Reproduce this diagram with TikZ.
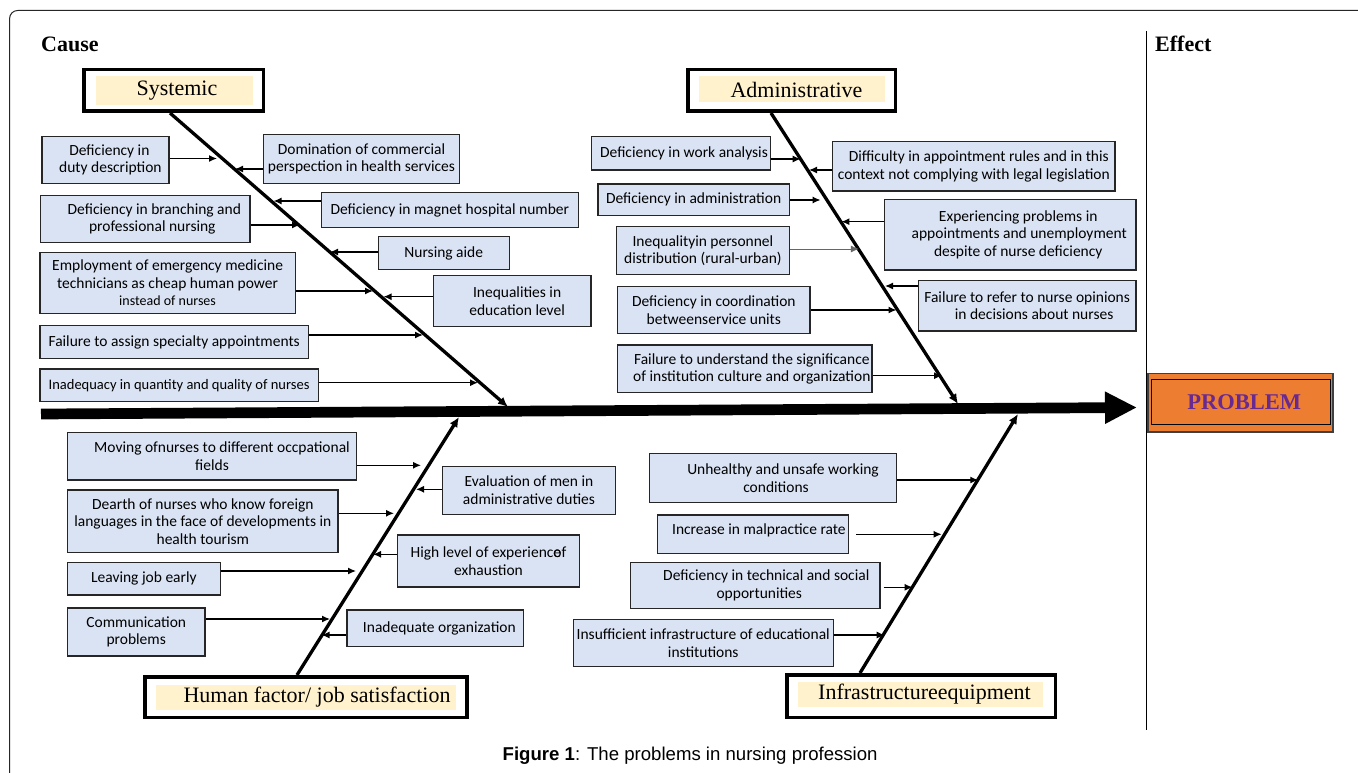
\documentclass[tikz,border=0pt]{standalone}
\usepackage{fontspec}
\setmainfont{Liberation Serif}
\newfontfamily\boxfont{Carlito}
\newfontfamily\capfont{Liberation Sans}
\usetikzlibrary{arrows.meta}
\definecolor{boxblue}{RGB}{218,227,243}
\definecolor{beige}{RGB}{255,242,204}
\definecolor{probor}{RGB}{237,125,49}
\definecolor{probpurple}{RGB}{104,42,145}
\newcommand\fishbox[7][]{\node[cbox, #1, minimum width={#5-#3-1.3}, minimum height={#6-#4-1.3}] (#2) at ({(#3+#5)/2},{(#4+#6)/2}) {#7};}
\begin{document}
\begin{tikzpicture}[x=1pt,y=-1pt,
  cbox/.style={draw=black!85, line width=1.3pt, fill=boxblue, inner sep=0pt, align=center,
    font=\boxfont\fontsize{15.5}{17.5}\selectfont},
  catb/.style={draw=black, line width=3.5pt, inner sep=0pt},
  catin/.style={fill=beige, inner sep=0pt, font=\fontsize{22}{24}\selectfont},
  sarrow/.style={line width=1.3pt, -{Latex[length=8pt,width=7pt]}},
  bone/.style={line width=3.3pt, -{Latex[length=10pt,width=9pt]}},
  heading/.style={anchor=west, inner sep=0pt, font=\bfseries\fontsize{22}{24}\selectfont}]
\useasboundingbox (0,0) rectangle (1358,773);
\fill[white] (0,0) rectangle (1358,773);
% frame
\draw[black!85, line width=1pt, rounded corners=8pt] (9.6,780) -- (9.6,10.5) -- (1365,10.5);
\draw[black, line width=1pt] (1146,31) -- (1146,730);
\node[heading] (cause) at (41,44) {Cause};
\node[heading] (effect) at (1155,44) {Effect};

% category boxes
\node[catb, minimum width=179.5, minimum height=41.5] (sys) at (173.5,90.5) {};
\node[catin, minimum width=157, minimum height=29] (sysl) at (174.5,90.5) {\hspace*{5pt}Systemic};
\node[catb, minimum width=207.5, minimum height=41.5] (adm) at (791.5,90.5) {};
\node[catin, minimum width=186, minimum height=26] (adml) at (792,89.5) {\hspace*{9pt}Administrative};
\node[catb, minimum width=322, minimum height=40.5] (hum) at (306.2,697) {};
\node[catin, minimum width=300, minimum height=25] (huml) at (306,697.5) {\hspace*{22pt}Human factor/ job satisfaction};
\node[catb, minimum width=268.5, minimum height=42.5] (inf) at (921,696) {};
\node[catin, minimum width=245, minimum height=25] (infl) at (920.5,694.5) {\hspace*{8pt}Infrastructureequipment};

% problem
\node[draw=black!75, line width=1.5pt, fill=probor, minimum width=185.2, minimum height=58.5, inner sep=0pt] (prob) at (1240.6,402.7) {};
\node[draw=black, line width=0.9pt, minimum width=179, minimum height=45.5, inner sep=0pt,
  text=probpurple, font=\bfseries\fontsize{22.5}{24}\selectfont] (probin) at (1240.8,402) {\hspace*{7pt}PROBLEM};

% spine
\coordinate (spS) at (41,414);
\coordinate (spE) at (1137,407.5);
\draw[line width=10.7pt, -{Triangle[length=32pt,width=30pt]}] (spS) -- (spE);

% bones
\coordinate (sysE) at (508,407);
\coordinate (admE) at (958,404);
\coordinate (humE) at (459,417);
\coordinate (infE) at (1018,414);
\draw[bone] ([xshift=-3.5pt]sys.south) -- (sysE);
\draw[bone] ([xshift=-20.5pt]adm.south) -- (admE);
\draw[bone] ([xshift=-9.2pt]hum.north) -- (humE);
\draw[bone] ([xshift=-61pt]inf.north) -- (infE);

% systemic causes
\fishbox{s1}{41.3}{135.7}{169.5}{184.3}{\hspace*{8pt}Deficiency in\\\hspace*{10pt}duty description}
\fishbox{s2}{263}{134}{460}{184}{Domination of commercial\\perspection in health services}
\fishbox{s3}{320.7}{192}{579}{228}{Deficiency in magnet hospital number}
\fishbox{s4}{40}{194.7}{250.7}{243}{\hspace*{18pt}Deficiency in branching and\\\hspace*{14pt}professional nursing}
\fishbox{s5}{377.7}{236}{509.8}{270}{Nursing aide}
\fishbox{s6}{39.4}{252}{295.8}{314}{Employment of emergency medicine\\technicians as cheap human power\\{\fontsize{14}{17}\selectfont instead of nurses}}
\fishbox{s7}{432.5}{274.7}{591.7}{327.3}{\hspace*{10pt}Inequalities in\\\hspace*{10pt}education level}
\fishbox{s8}{39.4}{325}{309}{359}{Failure to assign specialty appointments}
\fishbox[font=\boxfont\fontsize{14.5}{17}\selectfont]{s9}{39.4}{368.3}{318.8}{402.3}{Inadequacy in quantity and quality of nurses}
\coordinate (ts1) at (217,158.5);
\coordinate (ts2) at (235,169);
\coordinate (ts3) at (273.6,201);
\coordinate (ts4) at (300,225);
\coordinate (ts5) at (330,252);
\coordinate (ts6) at (373,291);
\coordinate (ts7) at (383.5,296.7);
\coordinate (ts8) at (423,335);
\coordinate (ts9) at (478,382.7);
\draw[sarrow] (s1.east |- ts1) -- (ts1);
\draw[sarrow] (s2.west |- ts2) -- (ts2);
\draw[sarrow] (s3.west |- ts3) -- (ts3);
\draw[sarrow] (s4.east |- ts4) -- (ts4);
\draw[sarrow] (s5.west |- ts5) -- (ts5);
\draw[sarrow] (s6.east |- ts6) -- (ts6);
\draw[sarrow] (s7.west |- ts7) -- (ts7);
\draw[sarrow] (s8.east |- ts8) -- (ts8);
\draw[sarrow] (s9.east |- ts9) -- (ts9);

% administrative causes
\fishbox{a1}{591}{136}{771}{170.7}{\hspace*{6pt}Deficiency in work analysis}
\fishbox{a2}{832}{141}{1115.7}{191.7}{\hspace*{10pt}Difficulty in appointment rules and in this\\context not complying with legal legislation}
\fishbox{a3}{597.4}{183.3}{789.8}{216}{Deficiency in administration}
\fishbox{a4}{884}{198.7}{1136.5}{270.7}{\hspace*{16pt}Experiencing problems in\\\hspace*{18pt}appointments and unemployment\\\hspace*{16pt}despite of nurse deficiency}
\fishbox{a5}{616}{226}{789.8}{275}{Inequalityin personnel\\distribution (rural-urban)}
\fishbox{a6}{917.8}{280}{1136.5}{331.7}{Failure to refer to nurse opinions\\\hspace*{14pt}in decisions about nurses}
\fishbox{a7}{617}{285.7}{810.7}{334.3}{Deficiency in coordination\\betweenservice units}
\fishbox{a8}{617}{344.3}{872.7}{393.3}{\hspace*{14pt}Failure to understand the significance\\\hspace*{14pt}of institution culture and organization}
\coordinate (ta1) at (800.7,159);
\coordinate (ta2) at (809,170);
\coordinate (ta3) at (820.6,200);
\coordinate (ta4) at (841.4,221.7);
\coordinate (ta5) at (858.8,249);
\coordinate (ta6) at (885,286);
\coordinate (ta7) at (896.5,310);
\coordinate (ta8) at (942,375.7);
\draw[sarrow] (a1.east |- ta1) -- (ta1);
\draw[sarrow] (a2.west |- ta2) -- (ta2);
\draw[sarrow] (a3.east |- ta3) -- (ta3);
\draw[sarrow] (a4.west |- ta4) -- (ta4);
\draw[sarrow, line width=0.8pt, draw=black!60] (a5.east |- ta5) -- (ta5);
\draw[sarrow] (a6.west |- ta6) -- (ta6);
\draw[sarrow] (a7.east |- ta7) -- (ta7);
\draw[sarrow] (a8.east |- ta8) -- (ta8);

% human factor causes
\fishbox{h1}{67}{432}{357}{480.7}{\hspace*{20pt}Moving ofnurses to different occpational\\fields}
\fishbox{h2}{442}{465.7}{616}{515}{Evaluation of men in\\administrative duties}
\fishbox{h3}{67}{489.3}{338.7}{553.3}{Dearth of nurses who know foreign\\languages in the face of developments in\\health tourism}
\fishbox{h4}{397}{534.3}{580}{587.7}{High level of experienc\rlap{e}of\\exhaustion}
\fishbox{h5}{67}{561.7}{220.8}{595.7}{Leaving job early}
\fishbox{h6}{67}{607.3}{205.5}{656.7}{Communication\\problems}
\fishbox{h7}{346.4}{609.3}{524.3}{647.3}{\hspace*{8pt}Inadequate organization}
\coordinate (th1) at (421,465.3);
\coordinate (th2) at (416,489.3);
\coordinate (th3) at (394,513.3);
\coordinate (th4) at (373,554.3);
\coordinate (th5) at (356,571);
\coordinate (th6) at (330,619);
\coordinate (th7) at (321.5,635);
\draw[sarrow] (h1.east |- th1) -- (th1);
\draw[sarrow] (h2.west |- th2) -- (th2);
\draw[sarrow] (h3.east |- th3) -- (th3);
\draw[sarrow] (h4.west |- th4) -- (th4);
\draw[sarrow] (h5.east |- th5) -- (th5);
\draw[sarrow] (h6.east |- th6) -- (th6);
\draw[sarrow] (h7.west |- th7) -- (th7);

% infrastructure causes
\fishbox{i1}{649}{452.7}{897}{503.3}{\hspace*{20pt}Unhealthy and unsafe working\\\hspace*{6pt}conditions}
\fishbox{i2}{656.7}{514.3}{849}{554}{\raisebox{10pt}{\hspace*{12pt}Increase in malpractice rate}}
\fishbox{i3}{630}{561.7}{880.6}{609.3}{\hspace*{22pt}Deficiency in technical and social\\\hspace*{8pt}opportunities}
\fishbox{i4}{572.7}{619}{833.8}{667.3}{Insufficient infrastructure of educational\\institutions}
\coordinate (ti1) at (978.3,480);
\coordinate (ti2) at (941.7,534.3);
\coordinate (ti3) at (912.7,587.3);
\coordinate (ti4) at (884.7,635);
\draw[sarrow] (i1.east |- ti1) -- (ti1);
\draw[sarrow] ([xshift=7pt]i2.east |- ti2) -- (ti2);
\draw[sarrow] ([xshift=3pt]i3.east |- ti3) -- (ti3);
\draw[sarrow] (i4.east |- ti4) -- (ti4);

% caption
\node[anchor=base west, inner sep=0pt, font=\capfont\fontsize{18.6}{20}\selectfont] (cap) at (502.5,760)
  {\textbf{Figure 1}: The problems in nursing profession};
\end{tikzpicture}
\end{document}
